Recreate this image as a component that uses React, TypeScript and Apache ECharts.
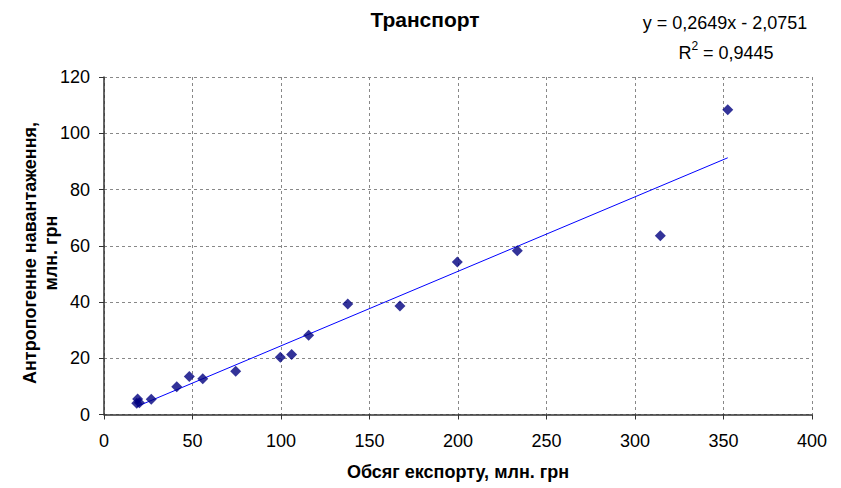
import React, { useEffect, useRef } from "react";
import * as echarts from "echarts";

const exportVolume = [18.5, 19.0, 20.0, 26.7, 41.1, 48.2, 55.8, 74.4, 99.6, 106.0, 115.6, 137.7, 167.2, 199.6, 233.5, 314.3, 352.4];
const loadValues = [4.0, 5.5, 4.2, 5.4, 9.9, 13.5, 12.7, 15.4, 20.4, 21.3, 28.2, 39.3, 38.6, 54.2, 58.2, 63.6, 108.4];
const trendSlope = 0.2649;
const trendIntercept = -2.0751;
const equationText = "y = 0,2649x - 2,0751";
const rSquared = "0,9445";
const chartTitle = "Транспорт";
const xAxisTitle = "Обсяг експорту, млн. грн";
const yAxisTitle = "Антропогенне навантаження,\nмлн. грн";

export default function App() {
  const ref = useRef<HTMLDivElement>(null);
  useEffect(() => {
    if (!ref.current) return;
    const chart = echarts.init(ref.current, null, { renderer: "svg" });
    const points = exportVolume.map((x, i) => [x, loadValues[i]]);
    const xMin = Math.min(...exportVolume);
    const xMax = Math.max(...exportVolume);
    const trend = [
      [xMin, trendSlope * xMin + trendIntercept],
      [xMax, trendSlope * xMax + trendIntercept],
    ];
    const font = "Liberation Sans, Arial, sans-serif";
    chart.setOption({
      animation: false,
      backgroundColor: "#ffffff",
      textStyle: { fontFamily: font },
      graphic: [
        {
          type: "text",
          x: 425,
          y: 19,
          style: {
            text: chartTitle,
            fill: "#000",
            font: `bold 21px ${font}`,
            textAlign: "center",
            textVerticalAlign: "middle",
          },
        },
        {
          type: "text",
          x: 725,
          y: 23,
          style: {
            text: equationText,
            fill: "#000",
            font: `18px ${font}`,
            textAlign: "center",
            textVerticalAlign: "middle",
          },
        },
        {
          type: "text",
          x: 726,
          y: 51,
          style: {
            text: `{a|R}{b|2}{a| = ${rSquared}}`,
            fill: "#000",
            font: `18px ${font}`,
            textAlign: "center",
            textVerticalAlign: "middle",
            rich: {
              a: { fontSize: 18, fontFamily: font, fill: "#000", verticalAlign: "bottom", lineHeight: 22 },
              b: { fontSize: 12, fontFamily: font, fill: "#000", verticalAlign: "top", lineHeight: 22 },
            },
          },
        },
        {
          type: "text",
          x: 40,
          y: 253,
          rotation: Math.PI / 2,
          style: {
            text: yAxisTitle,
            fill: "#000",
            font: `bold 18px ${font}`,
            textAlign: "center",
            textVerticalAlign: "middle",
            lineHeight: 21,
          },
        },
      ],
      grid: { left: 104, right: 29, top: 77, bottom: 73.5, containLabel: false },
      xAxis: {
        type: "value",
        min: 0,
        max: 400,
        interval: 50,
        name: xAxisTitle,
        nameLocation: "middle",
        nameGap: 48,
        nameTextStyle: { fontSize: 18, fontWeight: "bold", color: "#000", fontFamily: font },
        axisLine: { show: true, onZero: false, lineStyle: { color: "#333", width: 1.5 } },
        axisTick: { show: true, length: 5, lineStyle: { color: "#333" } },
        axisLabel: { fontSize: 18, color: "#000", margin: 17, fontFamily: font },
        splitLine: { show: true, lineStyle: { color: "#888", type: [3, 3], width: 1 } },
      },
      yAxis: {
        type: "value",
        min: 0,
        max: 120,
        interval: 20,
        axisLine: { show: true, onZero: false, lineStyle: { color: "#333", width: 1.5 } },
        axisTick: { show: true, length: 5, lineStyle: { color: "#333" } },
        axisLabel: { fontSize: 18, color: "#000", margin: 14, fontFamily: font },
        splitLine: { show: true, lineStyle: { color: "#888", type: [3, 3], width: 1 } },
      },
      series: [
        {
          type: "line",
          data: trend,
          showSymbol: false,
          symbol: "none",
          lineStyle: { color: "#0000ff", width: 1 },
          silent: true,
          z: 1,
        },
        {
          type: "scatter",
          data: points,
          symbol: "diamond",
          symbolSize: 11,
          itemStyle: { color: "#000080" },
          z: 2,
        },
      ],
    });
    return () => chart.dispose();
  }, []);
  return <div ref={ref} style={{ position: "fixed", left: 0, top: 0, width: 841, height: 488 }} />;
}
